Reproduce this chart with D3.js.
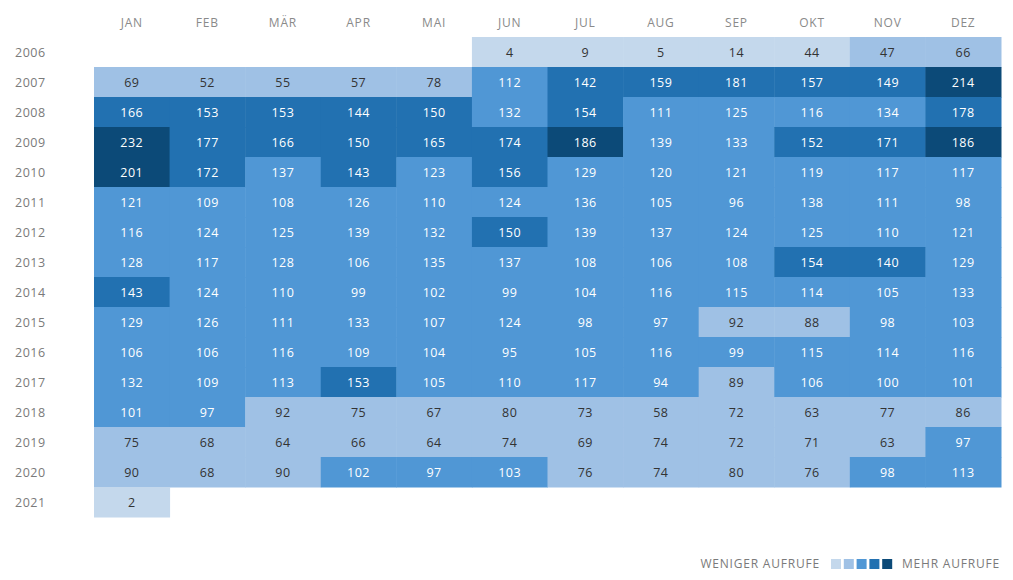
<!DOCTYPE html>
<html><head><meta charset="utf-8">
<script src="https://cdn.jsdelivr.net/npm/d3@7"></script>
<style>
html,body{margin:0;padding:0;background:#fff;}
svg{display:block;font-family:"Open Sans",sans-serif;}
</style></head>
<body><svg id="chart" width="1013" height="580"></svg>
<script>
const months = ["JAN","FEB","MÄR","APR","MAI","JUN","JUL","AUG","SEP","OKT","NOV","DEZ"];
const years = ["2006","2007","2008","2009","2010","2011","2012","2013","2014","2015","2016","2017","2018","2019","2020","2021"];
const values = [
  [null,null,null,null,null,4,9,5,14,44,47,66],
  [69,52,55,57,78,112,142,159,181,157,149,214],
  [166,153,153,144,150,132,154,111,125,116,134,178],
  [232,177,166,150,165,174,186,139,133,152,171,186],
  [201,172,137,143,123,156,129,120,121,119,117,117],
  [121,109,108,126,110,124,136,105,96,138,111,98],
  [116,124,125,139,132,150,139,137,124,125,110,121],
  [128,117,128,106,135,137,108,106,108,154,140,129],
  [143,124,110,99,102,99,104,116,115,114,105,133],
  [129,126,111,133,107,124,98,97,92,88,98,103],
  [106,106,116,109,104,95,105,116,99,115,114,116],
  [132,109,113,153,105,110,117,94,89,106,100,101],
  [101,97,92,75,67,80,73,58,72,63,77,86],
  [75,68,64,66,64,74,69,74,72,71,63,97],
  [90,68,90,102,97,103,76,74,80,76,98,113],
  [2,null,null,null,null,null,null,null,null,null,null,null]
];
const colors = ["#c4d8ec","#9fc1e5","#5097d5","#2271b1","#0c4a78"];
const legendLabels = ["WENIGER AUFRUFE","MEHR AUFRUFE"];

const svg = d3.select("#chart");
const x = d3.scaleBand().domain(months).range([94,1001]).padding(0);
const y = d3.scaleBand().domain(years).range([37,517]).padding(0);
const maxV = d3.max(values.flat());
const color = d3.scaleQuantize().domain([0, maxV]).range(colors);

const cells = [];
values.forEach((row,i)=>row.forEach((v,j)=>{ if(v!=null) cells.push({year:years[i],month:months[j],v}); }));

const g = svg.append("g");
g.selectAll("rect").data(cells).join("rect")
  .attr("x",d=>x(d.month)).attr("y",d=>y(d.year))
  .attr("width",x.bandwidth()+0.5).attr("height",y.bandwidth()+0.5)
  .attr("fill",d=>color(d.v));
g.selectAll("text.val").data(cells).join("text").attr("class","val")
  .attr("x",d=>x(d.month)+x.bandwidth()/2).attr("y",d=>y(d.year)+y.bandwidth()/2+1)
  .attr("dy","0.35em").attr("text-anchor","middle")
  .attr("font-size",12.5).attr("letter-spacing","0.5px")
  .attr("fill",d=>colors.indexOf(color(d.v))>=2?"#ffffff":"#333333")
  .text(d=>d.v);

// month header
svg.append("g").selectAll("text").data(months).join("text")
  .attr("x",d=>x(d)+x.bandwidth()/2).attr("y",23).attr("dy","0.35em")
  .attr("text-anchor","middle").attr("font-size",12).attr("letter-spacing","0.8px")
  .attr("fill","#8a8a8a").text(d=>d);
// year labels
svg.append("g").selectAll("text").data(years).join("text")
  .attr("x",15).attr("y",d=>y(d)+y.bandwidth()/2+1).attr("dy","0.35em")
  .attr("font-size",12.5).attr("letter-spacing","0.5px")
  .attr("fill","#7a7a7a").text(d=>d);

// legend
const lg = svg.append("g");
lg.append("text").attr("x",820).attr("y",564).attr("dy","0.35em").attr("text-anchor","end")
  .attr("font-size",12).attr("letter-spacing","0.8px").attr("fill","#7a7a7a").text(legendLabels[0]);
lg.selectAll("rect").data(colors).join("rect")
  .attr("x",(d,i)=>831+i*12.8).attr("y",559).attr("width",10).attr("height",10).attr("fill",d=>d);
lg.append("text").attr("x",1000).attr("y",564).attr("dy","0.35em").attr("text-anchor","end")
  .attr("font-size",12).attr("letter-spacing","0.8px").attr("fill","#7a7a7a").text(legendLabels[1]);
</script></body></html>
